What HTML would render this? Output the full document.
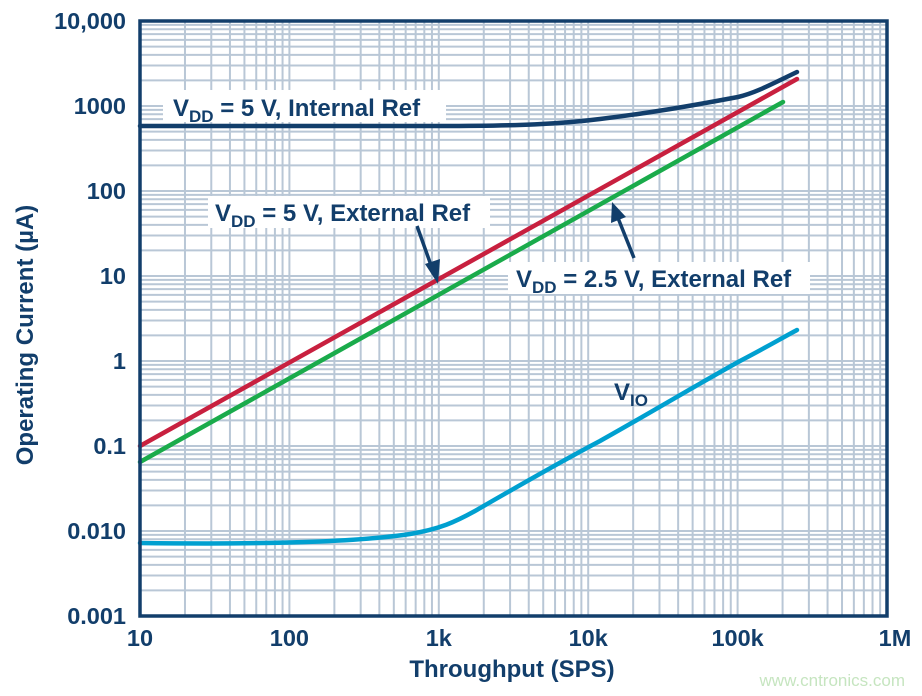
<!DOCTYPE html>
<html><head><meta charset="utf-8"><style>
html,body{margin:0;padding:0;background:#fff;}
svg{display:block;font-family:"Liberation Sans",Arial,sans-serif;font-weight:bold;}
</style></head><body>
<svg id="s" width="922" height="696" viewBox="0 0 922 696" xmlns="http://www.w3.org/2000/svg">
<g id="grid" stroke="#b9c7d6" stroke-width="2"></g>
<g fill="none" stroke-width="4.5" stroke-linecap="round" stroke-linejoin="round">
<path d="M140,446 L797,79" stroke="#c8203f"/>
<path d="M140,462 L783,102" stroke="#1aab4b"/>
<path d="M140,126 L440,126 C520,126 560,124 600,119 C650,113 690,106 738,97 C755,93 770,85 797,72" stroke="#123e6b"/>
<path d="M140,543 C300,545 370,540 410,534 C440,529 455,522 475,511 C520,485 560,462 600,441 C650,413 700,383 740,361 C765,348 782,338 797,330" stroke="#00a0d0"/>
</g>
<rect x="140" y="21" width="747" height="595" fill="none" stroke="#123e6b" stroke-width="3.5"/>
<g fill="#123e6b" font-size="24">
<rect x="163" y="90" width="283" height="32" fill="#fff"/>
<text x="173" y="116">V<tspan font-size="17" dy="6">DD</tspan><tspan dy="-6"> = 5 V, Internal Ref</tspan></text>
<rect x="208" y="196" width="282" height="32" fill="#fff"/>
<text x="215" y="221">V<tspan font-size="17" dy="6">DD</tspan><tspan dy="-6"> = 5 V, External Ref</tspan></text>
<rect x="508" y="262" width="302" height="32" fill="#fff"/>
<text x="516" y="287">V<tspan font-size="17" dy="6">DD</tspan><tspan dy="-6"> = 2.5 V, External Ref</tspan></text>
<text x="614" y="400">V<tspan font-size="17" dy="6">IO</tspan></text>
</g>
<g stroke="#123e6b" stroke-width="3.5" fill="#123e6b">
<line x1="417" y1="226" x2="432" y2="268"/>
<polygon points="438,284 425,264 440,259" stroke="none"/>
<line x1="634" y1="258" x2="618" y2="218"/>
<polygon points="612,202 611,223 626,217" stroke="none"/>
</g>
<g fill="#123e6b" font-size="23.5" text-anchor="end" id="yl"></g>
<g fill="#123e6b" font-size="23.5" text-anchor="middle" id="xl"></g>
<text x="512" y="677" fill="#123e6b" font-size="24" text-anchor="middle">Throughput (SPS)</text>
<text transform="translate(33,335) rotate(-90)" fill="#123e6b" font-size="24" text-anchor="middle">Operating Current (µA)</text>
<text x="905" y="686" fill="#c6e5c0" font-size="17" font-weight="normal" text-anchor="end">www.cntronics.com</text>
</svg>
<script>
var ns="http://www.w3.org/2000/svg",g=document.getElementById("grid");
function L(x1,y1,x2,y2){var l=document.createElementNS(ns,"line");l.setAttribute("x1",x1);l.setAttribute("y1",y1);l.setAttribute("x2",x2);l.setAttribute("y2",y2);g.appendChild(l);}
for(var d=0;d<5;d++)for(var k=1;k<10;k++){var x=140+149.4*(d+Math.log10(k));L(x,21,x,616);}
for(var d=0;d<7;d++)for(var k=1;k<10;k++){var y=616-85*(d+Math.log10(k));L(140,y,887,y);}
var yl=["0.001","0.010","0.1","1","10","100","1000","10,000"],yg=document.getElementById("yl");
yl.forEach(function(t,i){var e=document.createElementNS(ns,"text");e.setAttribute("x",126);e.setAttribute("y",616-85*i+8);e.textContent=t;yg.appendChild(e);});
var xl=["10","100","1k","10k","100k","1M"],xg=document.getElementById("xl");
xl.forEach(function(t,i){var e=document.createElementNS(ns,"text");e.setAttribute("x",140+149.4*i+(i==5?8:0));e.setAttribute("y",646);e.textContent=t;xg.appendChild(e);});
</script>
</body></html>
